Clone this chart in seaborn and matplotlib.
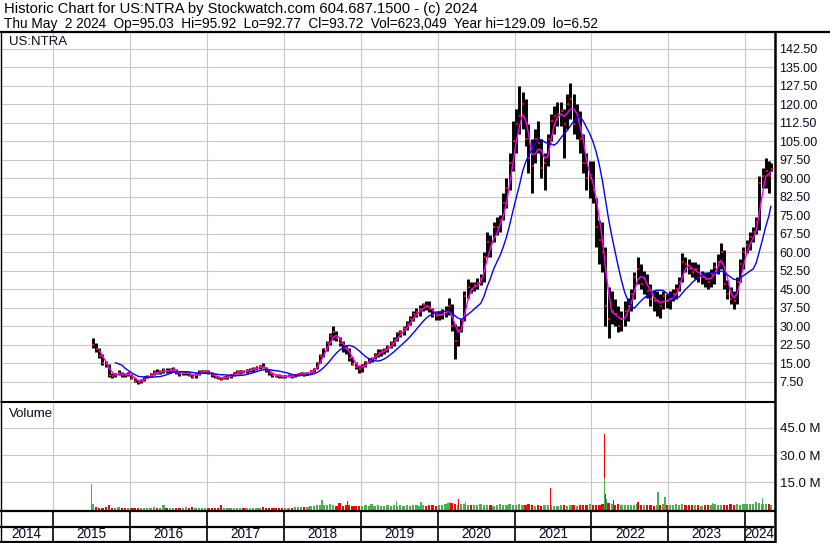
import numpy as np
import pandas as pd
import matplotlib
matplotlib.use("Agg")
import matplotlib.pyplot as plt
import seaborn as sns

# ---------------- data (semi-monthly periods, Jul 2015 .. May 2024) ----------------
period_start = pd.date_range("2015-07-01", "2024-05-01", freq="SMS")

high = [
    25, 23, 21, 18.5, 16, 14.5, 11, 11, 12, 11.5, 11, 11.2,                                   # 2015
    10.5, 9, 8.2, 8.5, 9.5, 10, 11, 12, 12.5, 12, 13, 13, 12.8, 13.2, 12.5, 11.5, 11.5, 11.6,
    11.5, 10.5, 10.8, 12, 12.3, 12,                                                            # 2016
    12, 11.2, 10.2, 9.8, 9.5, 9.8, 10.2, 10.5, 11.2, 12, 12.3, 12, 12.4, 12.8, 13.3, 13.5,
    14.2, 14.8, 13.5, 12, 11, 10.5, 10.4, 10.2,                                                # 2017
    10.2, 10.5, 10.3, 10.5, 11, 11.5, 11.3, 11.5, 12, 13, 15.5, 18.5, 21, 24, 27, 29.8, 28,
    25.5, 24, 22.5, 21, 17.5, 15.5, 14,                                                        # 2018
    14.5, 16, 17, 17.5, 19, 20.5, 20.8, 21, 22.5, 24, 25.5, 27.5, 28.5, 30, 32, 34, 36, 37.5,
    38.5, 39.5, 40.3, 40, 37.5, 36,                                                            # 2019
    36, 37, 38, 41.5, 39, 31, 30, 33, 44, 49, 48, 48, 49.5, 51, 60, 68, 67, 72, 74, 75, 84,
    90, 100, 113,                                                                              # 2020
    118, 127.5, 125, 122, 112, 106, 110, 113, 106, 100, 108, 116, 119, 121, 121, 118, 124,
    128.7, 124, 120, 117, 108, 100, 97,                                                        # 2021
    97, 82, 73, 72, 62, 46, 44, 41, 38, 36, 40, 41.5, 45, 52, 57.8, 55, 52.5, 51, 47, 44.4,
    44, 43, 44, 43,                                                                            # 2022
    44, 45, 47, 50, 59.4, 58, 57, 56, 56, 55, 52.5, 52, 52, 53, 56, 59, 63.5, 61, 48.5, 46,
    44, 50, 57, 62,                                                                            # 2023
    65, 68, 70, 74, 91, 94, 98, 97, 95.9,                                                      # 2024
]
low = [
    21, 19.5, 17, 14, 13.5, 9.5, 9, 9.2, 10, 9.5, 9.3, 9.6,
    8.5, 7.2, 6.5, 7, 7.8, 8.8, 9.3, 10.2, 10.5, 10.5, 11, 11, 11, 11.4, 10.5, 9.8, 10, 10.2,
    9.8, 8.8, 9, 10, 11, 11,
    10.5, 9.5, 8.8, 8.5, 8.2, 8.5, 8.7, 9, 9.6, 10.5, 10.7, 10.8, 10.8, 11.5, 11.2, 12, 12.5,
    12.8, 11.5, 10.2, 9.5, 9.3, 9, 8.9,
    9, 9.2, 8.8, 9.2, 9.8, 10, 9.9, 10, 10.6, 11.2, 12.5, 14.8, 17.5, 20, 22.5, 24.5, 24, 22,
    19.5, 18.5, 16, 14, 12.5, 11,
    11.5, 13.5, 14.8, 15.5, 16.5, 17.5, 18, 18.5, 19.5, 21, 22, 24, 25.5, 26.5, 28.5, 30.5,
    32, 33.5, 34, 36, 36.5, 35.5, 33.5, 32.5,
    32.5, 33, 33.5, 34.5, 28, 16.8, 22, 27.5, 32, 41.5, 43.5, 44, 45, 46.5, 48, 58, 58, 64,
    67, 68, 73, 78, 85, 93,
    100, 108, 110, 103, 92, 84, 96, 100, 90, 85, 95, 105, 108, 111, 111, 98, 110, 114, 108,
    106, 100, 92, 85, 82,
    80, 62, 55, 52, 30, 25.3, 31, 30, 27.5, 28, 30, 32, 36, 41, 47, 45, 43, 41.5, 38, 36, 34,
    33.4, 37, 37.5,
    37, 40, 41, 44, 48, 52, 51, 50, 49, 48, 47, 46, 45, 46, 47, 51, 53, 45, 41, 39, 37, 39,
    48, 53,
    59.4, 61, 64, 67.5, 69, 86, 86, 84, 92.8,
]
close = [
    22.5, 20.5, 18, 15, 14.5, 10, 9.8, 10.5, 11, 10.2, 10, 10.8,
    8.8, 7.8, 7.3, 8, 9.2, 9.5, 10.5, 11.5, 11, 11.5, 12.2, 11.8, 12, 12.5, 11, 10.5, 10.8,
    11.3, 10.2, 9.3, 10.3, 11.5, 11.6, 11.6,
    11, 10, 9.3, 9, 8.7, 9.2, 9.5, 10, 10.8, 11.2, 11.8, 11.3, 12, 12.3, 12.5, 13.2, 13.8,
    13.3, 12, 10.8, 10, 9.8, 9.6, 9.5,
    9.6, 9.8, 9.4, 10.2, 10.5, 10.8, 10.4, 11, 11.6, 12.7, 15, 18, 20.5, 23, 26, 27.5, 25, 23,
    21, 20.5, 17, 14.5, 13.5, 12.5,
    14, 15.5, 16.5, 16.8, 18.5, 19, 20, 20.2, 21.5, 23, 24.5, 27, 27.5, 29, 31, 33, 35, 35.5,
    37, 38.5, 38, 37, 34.5, 34,
    34.5, 35, 36, 38, 30, 24, 28.5, 32.5, 42, 46, 45, 46.5, 47.5, 49, 58, 64, 62, 70, 70, 73,
    80, 86, 96, 105,
    112, 115, 120, 106, 98, 95, 106, 104, 94, 96, 106, 113, 115, 116, 117, 112, 120, 122, 112,
    115, 106, 96, 90, 90,
    85, 70, 65, 60, 38, 33, 36, 35, 30, 33, 36, 38, 43, 50, 53, 47, 49, 44, 41, 40, 40, 38,
    42, 40,
    41, 43, 45, 48, 56, 55, 53, 52, 53, 50, 50, 49, 48, 51, 54, 56, 60, 47, 43, 41, 40, 48,
    55, 60,
    63, 66, 68, 72, 88, 91, 93, 91, 93.7,
]
volume = [  # typical daily volume in each period, millions
    3.0, 1.3, 1.0, 1.2, 1.3, 2.5, 0.9, 1.1, 1.4, 1.0, 0.9, 1.0,
    0.9, 1.2, 1.0, 0.8, 1.1, 0.9, 1.0, 1.3, 0.8, 1.0, 2.4, 1.2, 1.0, 0.8, 0.9, 1.1, 0.8, 1.6,
    1.0, 1.5, 0.9, 1.2, 0.8, 1.0,
    0.9, 1.1, 0.8, 1.0, 2.4, 0.9, 1.0, 1.2, 0.8, 1.1, 0.9, 1.0, 1.1, 0.8, 0.9, 1.0, 1.2, 1.3,
    1.0, 0.9, 0.8, 1.0, 0.9, 1.1,
    1.0, 1.2, 1.1, 1.3, 1.5, 1.4, 1.6, 1.5, 1.8, 2.0, 2.4, 2.8, 2.5, 2.6, 3.0, 2.4, 2.2, 3.7,
    2.0, 2.6, 2.4, 2.2, 2.0, 2.3,
    2.0, 2.6, 2.2, 3.2, 2.0, 2.4, 2.1, 2.3, 2.6, 2.0, 2.8, 2.2, 2.4, 2.0, 2.6, 2.2, 2.5, 2.7,
    2.3, 2.6, 2.1, 2.4, 2.8, 2.2,
    2.5, 2.8, 3.2, 3.5, 3.8, 3.4, 2.8, 3.0, 3.2, 2.6, 2.8, 2.4, 2.6, 3.0, 2.7, 2.4, 2.6, 2.3,
    2.8, 3.2, 2.5, 2.7, 2.9, 2.6,
    2.8, 3.0, 2.6, 2.4, 2.9, 2.6, 2.3, 2.5, 2.2, 2.7, 2.4, 2.6, 2.3, 2.1, 2.5, 2.4, 2.2, 2.6,
    2.4, 2.3, 2.6, 2.8, 2.5, 2.9,
    2.6, 2.8, 2.5, 3.0, 3.4, 3.6, 3.0, 2.7, 2.9, 2.5, 2.6, 2.8, 2.5, 2.7, 3.0, 2.6, 2.4, 2.7,
    2.5, 2.3, 2.8, 2.6, 2.9, 2.5,
    2.7, 2.5, 2.9, 2.7, 3.1, 2.6, 2.4, 2.8, 2.5, 2.7, 2.3, 2.6, 2.8, 2.5, 3.0, 2.7, 2.6, 2.8,
    2.5, 2.9, 2.6, 3.0, 2.7, 3.1,
    3.2, 2.9, 3.3, 3.0, 3.5, 3.1, 3.3, 3.0, 2.8,
]
spike_dates = ["2015-07-02", "2018-07-01", "2018-11-01", "2019-06-21", "2019-10-14",
               "2020-02-27", "2020-04-08", "2020-05-12", "2021-06-21", "2022-03-04",
               "2022-03-04", "2022-03-09", "2022-03-13", "2022-04-17", "2022-08-10",
               "2022-11-13", "2022-12-16", "2023-07-31", "2024-02-21", "2024-03-22"]
spike_volume = [14.1, 5.3, 4.8, 4.8, 4.4, 4.5, 5.9, 4.2, 12.1, 41.6,
                17.6, 8.6, 5.9, 5.3, 4.2, 9.7, 7.0, 3.8, 4.4, 6.6]
spike_up = [True, True, False, True, True, True, False, True, False, False,
            True, False, True, False, False, True, True, True, True, True]

price_ticks = np.arange(7.5, 143, 7.5)
volume_ticks = [15, 30, 45]
years = list(range(2014, 2025))
header1 = "Historic Chart for US:NTRA by Stockwatch.com 604.687.1500 - (c) 2024"
header2 = ("Thu May  2 2024  Op=95.03  Hi=95.92  Lo=92.77  Cl=93.72  Vol=623,049  "
           "Year hi=129.09  lo=6.52")

# ---------------- derived frame ----------------
ends = list(period_start[1:]) + [pd.Timestamp("2024-05-03")]
centers = pd.DatetimeIndex([s + (e - s) / 2 for s, e in zip(period_start, ends)])
df = pd.DataFrame({"date": centers, "high": high, "low": low, "close": close, "vol": volume})
df["ma_fast"] = df["close"].rolling(3).mean()
df["ma_slow"] = df["close"].rolling(10, min_periods=8).mean()
df["up"] = df["close"].diff().fillna(1) >= 0

# ---------------- figure ----------------
sns.set_theme(style="white")
plt.rcParams["font.family"] = ["Liberation Sans", "DejaVu Sans"]

W, H = 830, 543
fig = plt.figure(figsize=(W / 100, H / 100), dpi=100)
fig.patch.set_facecolor("white")

XMIN, XMAX = pd.Timestamp("2014-04-24"), pd.Timestamp("2024-05-17")
GRID = "#c8c8c8"
TXT = "#0a0a20"
GREEN = "#4caf50"
FS = 9


def rect(x0, y0, x1, y1):
    return [x0 / W, 1 - y1 / H, (x1 - x0) / W, (y1 - y0) / H]


year_starts = [pd.Timestamp(f"{y}-01-01") for y in range(2015, 2025)]

# price panel
ax = fig.add_axes(rect(0, 32, 774, 400))
ax.set_facecolor("white")
ax.vlines(df["date"], df["low"], df["high"], color="black", lw=2.1, zorder=3)
sns.scatterplot(x=df["date"] + pd.Timedelta(days=4), y=df["close"], marker="s", s=4,
                color="red", linewidth=0, ax=ax, zorder=4)
sns.lineplot(x=df["date"], y=df["ma_fast"], color="#ff00ff", lw=1.0, ax=ax, zorder=5)
sns.lineplot(x=df["date"], y=df["ma_slow"], color="#0000ff", lw=1.0, ax=ax, zorder=6)
ax.set_xlim(XMIN, XMAX)
ax.set_ylim(0, 149.2)
ax.set_xticks(year_starts)
ax.set_yticks(price_ticks)
ax.set_yticklabels([f"{v:.2f}" for v in price_ticks])
ax.grid(True, color=GRID, lw=0.8)
ax.set_axisbelow(True)
ax.tick_params(axis="x", length=0, labelbottom=False)
ax.tick_params(axis="y", length=0, pad=4.0, labelsize=FS, labelcolor=TXT,
               left=False, labelleft=False, right=False, labelright=True)
ax.set_xlabel("")
ax.set_ylabel("")
for s in ax.spines.values():
    s.set_visible(False)
ax.text(0.012, 0.972, "US:NTRA", transform=ax.transAxes, fontsize=9.5, color=TXT,
        ha="left", va="center")

# volume panel
axv = fig.add_axes(rect(0, 402, 774, 510))
axv.set_facecolor("white")
axv.bar(df["date"], df["vol"], width=11,
        color=[GREEN if u else "#ff0000" for u in df["up"]], linewidth=0, zorder=3)
sd = pd.to_datetime(spike_dates)
axv.bar(sd, spike_volume, width=6,
        color=[GREEN if u else "#ff0000" for u in spike_up], linewidth=0, zorder=4)
axv.set_xlim(XMIN, XMAX)
axv.set_ylim(-0.16, 59.2)
axv.set_xticks(year_starts)
axv.set_yticks(volume_ticks)
axv.set_yticklabels([f"{v:.1f} M" for v in volume_ticks])
axv.grid(True, color=GRID, lw=0.8)
axv.set_axisbelow(True)
axv.tick_params(axis="x", length=0, labelbottom=False)
axv.tick_params(axis="y", length=0, pad=4.0, labelsize=9.5, labelcolor=TXT,
                left=False, labelleft=False, right=False, labelright=True)
for s in axv.spines.values():
    s.set_visible(False)
axv.text(0.012, 0.89, "Volume", transform=axv.transAxes, fontsize=9.5, color=TXT,
         ha="left", va="center")

# bottom date rows
axb = fig.add_axes(rect(0, 510, 774, 542))
axb.set_xlim(XMIN, XMAX)
axb.set_ylim(0, 1)
axb.axis("off")
for d in year_starts:
    axb.axvline(d, color="black", lw=1.2)
axb.axhline(15 / 32, color="black", lw=1.6)
for y in years:
    a = max(pd.Timestamp(f"{y}-01-01"), XMIN)
    b = min(pd.Timestamp(f"{y + 1}-01-01"), XMAX)
    axb.text(a + (b - a) / 2, 7.5 / 32, str(y), fontsize=9.8, color=TXT,
             ha="center", va="center")

# overlay for frame lines and header
ov = fig.add_axes([0, 0, 1, 1])
ov.set_xlim(0, W)
ov.set_ylim(H, 0)
ov.axis("off")
ov.patch.set_alpha(0)
k = dict(color="black", solid_capstyle="butt")
ov.plot([0, W], [31.5, 31.5], lw=1.6, **k)
ov.plot([774.5, 774.5], [31, 543], lw=1.8, **k)
ov.plot([0.5, 0.5], [31, 543], lw=1.0, **k)
ov.plot([0, 775], [400.5, 400.5], lw=0.8, **k)
ov.plot([0, 775], [402.2, 402.2], lw=0.8, **k)
ov.plot([0, 775], [510.5, 510.5], lw=1.6, **k)
ov.plot([0, 775], [541.8, 541.8], lw=1.6, **k)
ov.text(4, 9, header1, fontsize=10.6, color="black", ha="left", va="center")
ov.text(4, 24, header2, fontsize=9.8, color="black", ha="left", va="center")

fig.savefig("out.png", dpi=100, facecolor="white")
